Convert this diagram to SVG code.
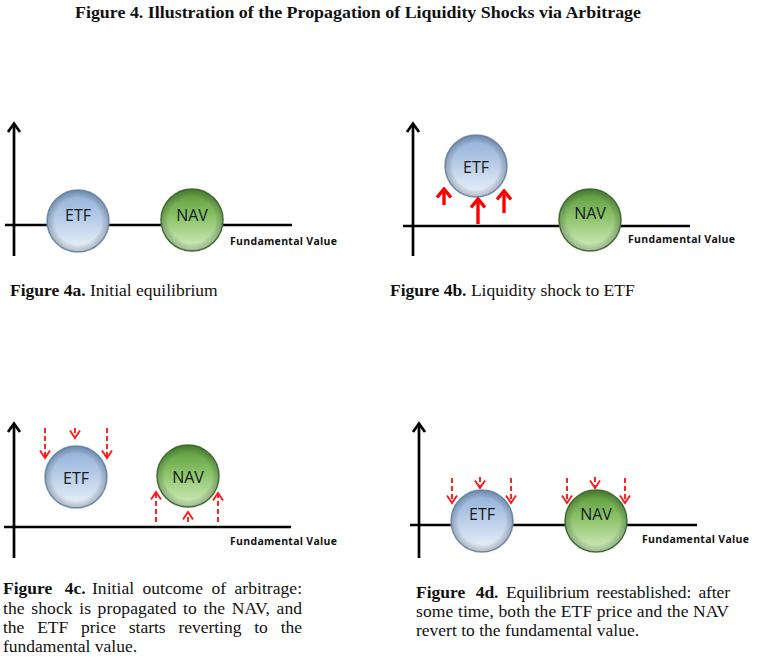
<svg xmlns="http://www.w3.org/2000/svg" width="768" height="662" viewBox="0 0 768 662">
<style>
.axis{stroke:#000;stroke-width:2.7;fill:none}
.axhead{stroke:#000;stroke-width:2.7;fill:none;stroke-linejoin:miter}
.lbl{font-family:"Open Sans","Liberation Sans",sans-serif;font-size:16px;fill:#151a22;text-anchor:middle}
.fv{font-family:"Open Sans","Liberation Sans",sans-serif;font-size:10.5px;font-weight:bold;fill:#111}
.cap{font-family:"Liberation Serif","Times New Roman",serif;font-size:17.5px;fill:#111}
.capb{font-family:"Liberation Serif","Times New Roman",serif;font-size:17.5px;font-weight:bold;fill:#111}
.title{font-family:"Liberation Serif","Times New Roman",serif;font-size:17px;font-weight:bold;fill:#111}
.etf{fill:url(#etfG);stroke:#7f9abd;stroke-width:1.5}
.nav{fill:url(#navG);stroke:#4a7832;stroke-width:1.5}
.shade{fill:url(#edgeG)}
.solid{stroke:#ff0000;stroke-width:3.4;fill:none;marker-end:url(#solidHead)}
.dash{stroke:#ff1a1a;stroke-width:1.9;fill:none;stroke-dasharray:5 3;marker-end:url(#dashHead)}
</style>
<defs>
<linearGradient id="etfG" x1="0" y1="0" x2="0" y2="1">
<stop offset="0" stop-color="#8eaed6"/>
<stop offset="0.45" stop-color="#b6cbe7"/>
<stop offset="1" stop-color="#eef4fb"/>
</linearGradient>
<linearGradient id="navG" x1="0" y1="0" x2="0" y2="1">
<stop offset="0" stop-color="#579636"/>
<stop offset="0.45" stop-color="#8cc369"/>
<stop offset="1" stop-color="#d5eec2"/>
</linearGradient>
<radialGradient id="edgeG" cx="0.5" cy="0.5" r="0.5">
<stop offset="0.75" stop-color="#000" stop-opacity="0"/>
<stop offset="1" stop-color="#1a2a3a" stop-opacity="0.28"/>
</radialGradient>
<marker id="solidHead" markerUnits="userSpaceOnUse" viewBox="-12 -10 14 20" markerWidth="14" markerHeight="20" refX="0" refY="0" orient="auto">
<path d="M-8.5,-7 L0,0 L-8.5,7" fill="none" stroke="#ff0000" stroke-width="3.4"/>
</marker>
<marker id="dashHead" markerUnits="userSpaceOnUse" viewBox="-10 -8 12 16" markerWidth="12" markerHeight="16" refX="0" refY="0" orient="auto">
<path d="M-7.5,-5 L0,0 L-7.5,5" fill="none" stroke="#ff1a1a" stroke-width="1.9"/>
</marker>
</defs>

<text class="title" x="75" y="18" textLength="566" lengthAdjust="spacingAndGlyphs">Figure 4. Illustration of the Propagation of Liquidity Shocks via Arbitrage</text>

<!-- Panel a -->
<g id="panel-a-axes">
<line class="axis" x1="14" y1="124" x2="14" y2="256"/>
<path class="axhead" d="M8,132 L14,123.5 L20,132"/>
<line class="axis" x1="5" y1="225" x2="292" y2="225"/>
<text class="fv" x="230" y="245" textLength="107">Fundamental Value</text>
</g>
<g id="a-etf"><circle class="etf" cx="78" cy="221" r="31"/><circle class="shade" cx="78" cy="221" r="31"/><text class="lbl" x="78" y="221">ETF</text></g>
<g id="a-nav"><circle class="nav" cx="192" cy="220" r="31"/><circle class="shade" cx="192" cy="220" r="31"/><text class="lbl" x="192" y="221">NAV</text></g>
<text class="capb" x="10" y="296">Figure 4a.<tspan class="cap" font-weight="normal"> Initial equilibrium</tspan></text>

<!-- Panel b -->
<g id="panel-b-axes">
<line class="axis" x1="413" y1="124" x2="413" y2="256"/>
<path class="axhead" d="M407,132 L413,123.5 L419,132"/>
<line class="axis" x1="403" y1="226" x2="690" y2="226"/>
<text class="fv" x="628" y="243" textLength="107">Fundamental Value</text>
</g>
<g id="b-etf"><circle class="etf" cx="476" cy="166" r="31"/><circle class="shade" cx="476" cy="166" r="31"/><text class="lbl" x="476" y="173">ETF</text></g>
<g id="b-nav"><circle class="nav" cx="590" cy="220" r="31"/><circle class="shade" cx="590" cy="220" r="31"/><text class="lbl" x="590" y="219">NAV</text></g>
<text class="capb" x="390" y="296">Figure 4b.<tspan class="cap" font-weight="normal"> Liquidity shock to ETF</tspan></text>

<!-- Panel c -->
<g id="panel-c-axes">
<line class="axis" x1="14" y1="424" x2="14" y2="558"/>
<path class="axhead" d="M8,432 L14,423.5 L20,432"/>
<line class="axis" x1="4" y1="527" x2="291" y2="527"/>
<text class="fv" x="230" y="545" textLength="107">Fundamental Value</text>
</g>
<g id="c-etf"><circle class="etf" cx="76" cy="477" r="31"/><circle class="shade" cx="76" cy="477" r="31"/><text class="lbl" x="76" y="484">ETF</text></g>
<g id="c-nav"><circle class="nav" cx="188" cy="476" r="31"/><circle class="shade" cx="188" cy="476" r="31"/><text class="lbl" x="188" y="483">NAV</text></g>

<!-- Panel d -->
<g id="panel-d-axes">
<line class="axis" x1="419" y1="424" x2="419" y2="558"/>
<path class="axhead" d="M413,432 L419,423.5 L425,432"/>
<line class="axis" x1="410" y1="525" x2="697" y2="525"/>
<text class="fv" x="642" y="543" textLength="107">Fundamental Value</text>
</g>
<g id="d-etf"><circle class="etf" cx="482" cy="521" r="31"/><circle class="shade" cx="482" cy="521" r="31"/><text class="lbl" x="482" y="520">ETF</text></g>
<g id="d-nav"><circle class="nav" cx="596" cy="521" r="31"/><circle class="shade" cx="596" cy="521" r="31"/><text class="lbl" x="596" y="520">NAV</text></g>

<g id="connectors">
<line class="solid" x1="444" y1="205" x2="444" y2="189"/>
<line class="solid" x1="478" y1="224" x2="478" y2="199"/>
<line class="solid" x1="504" y1="213" x2="504" y2="191"/>

<line class="dash" x1="45" y1="428" x2="45" y2="458"/>
<line class="dash" x1="75" y1="428" x2="75" y2="438"/>
<line class="dash" x1="107" y1="428" x2="107" y2="458"/>
<line class="dash" x1="156" y1="522" x2="156" y2="492"/>
<line class="dash" x1="188" y1="522" x2="188" y2="512"/>
<line class="dash" x1="218" y1="522" x2="218" y2="493"/>

<line class="dash" x1="452" y1="478" x2="452" y2="503"/>
<line class="dash" x1="480" y1="477" x2="480" y2="488"/>
<line class="dash" x1="511" y1="478" x2="511" y2="503"/>
<line class="dash" x1="567" y1="478" x2="567" y2="503"/>
<line class="dash" x1="595" y1="477" x2="595" y2="488"/>
<line class="dash" x1="625" y1="478" x2="625" y2="503"/>
</g>

<!-- Caption c -->
<text class="capb" x="3" y="594" word-spacing="8">Figure 4c.</text>
<text class="cap" x="92" y="594" word-spacing="4" textLength="210">Initial outcome of arbitrage:</text>
<text class="cap" x="3" y="613.5" word-spacing="2" textLength="299">the shock is propagated to the NAV, and</text>
<text class="cap" x="3" y="633" word-spacing="8.5" textLength="299">the ETF price starts reverting to the</text>
<text class="cap" x="3" y="652">fundamental value.</text>

<!-- Caption d -->
<text class="capb" x="416" y="598" word-spacing="6">Figure 4d.</text>
<text class="cap" x="506" y="598" word-spacing="3" textLength="224">Equilibrium reestablished: after</text>
<text class="cap" x="416" y="617" textLength="313">some time, both the ETF price and the NAV</text>
<text class="cap" x="416" y="636">revert to the fundamental value.</text>
</svg>
